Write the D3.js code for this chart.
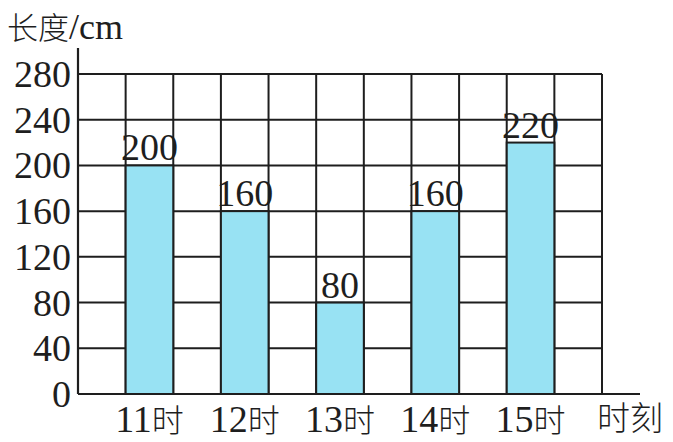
<!DOCTYPE html>
<html>
<head>
<meta charset="utf-8">
<script src="https://cdn.jsdelivr.net/npm/d3@7"></script>
<style>
  html, body { margin: 0; padding: 0; background: #fff; }
  svg { display: block; }
</style>
</head>
<body>
<script>
const categories = ["11时", "12时", "13时", "14时", "15时"];
const values = [200, 160, 80, 160, 220];
const yTicks = [0, 40, 80, 120, 160, 200, 240, 280];
const yTitle = "长度/cm";
const xTitle = "时刻";

const W = 673, H = 442;
const plotLeft = 78, plotRight = 602, plotTop = 74, plotBottom = 394;
const ink = "#1e1e1e";
const serif = "'Liberation Serif', 'DejaVu Serif', serif";
const cjk = "'Noto Sans CJK SC', sans-serif";

const svg = d3.select("body").append("svg").attr("width", W).attr("height", H);

const x = d3.scaleBand().domain(categories).range([plotLeft, plotRight])
  .paddingInner(0.5).paddingOuter(0.5);
const y = d3.scaleLinear().domain([0, 280]).range([plotBottom, plotTop]);

const col = x.step() / 2;
const nCols = Math.round((plotRight - plotLeft) / col);
const vLines = d3.range(nCols + 1).map(k => plotLeft + k * col);

// grid
const grid = svg.append("g").attr("stroke", ink).attr("stroke-width", 2);
grid.selectAll("line.h").data(yTicks.filter(t => t > 0)).join("line")
  .attr("class", "h")
  .attr("x1", plotLeft).attr("x2", plotRight)
  .attr("y1", d => y(d)).attr("y2", d => y(d));
grid.selectAll("line.v").data(vLines.slice(1)).join("line")
  .attr("class", "v")
  .attr("x1", d => d).attr("x2", d => d)
  .attr("y1", plotTop).attr("y2", plotBottom);

// bars
svg.append("g").selectAll("rect").data(values).join("rect")
  .attr("x", (d, i) => x(categories[i]))
  .attr("y", d => y(d))
  .attr("width", x.bandwidth())
  .attr("height", d => y(0) - y(d))
  .attr("fill", "#98e2f3")
  .attr("stroke", ink).attr("stroke-width", 2);

// axes lines
svg.append("line").attr("x1", plotLeft).attr("x2", plotLeft).attr("y1", 48).attr("y2", plotBottom)
  .attr("stroke", ink).attr("stroke-width", 2.2);
svg.append("line").attr("x1", plotLeft).attr("x2", 640).attr("y1", plotBottom).attr("y2", plotBottom)
  .attr("stroke", ink).attr("stroke-width", 2.2);

// y tick labels
svg.append("g").selectAll("text").data(yTicks).join("text")
  .attr("x", 71).attr("y", d => y(d) + 13)
  .attr("text-anchor", "end")
  .attr("font-family", serif).attr("font-size", 38).attr("fill", ink)
  .text(d => d);

// value labels
svg.append("g").selectAll("text").data(values).join("text")
  .attr("x", (d, i) => x(categories[i]) + x.bandwidth() / 2)
  .attr("y", d => y(d) - 5)
  .attr("text-anchor", "middle")
  .attr("font-family", serif).attr("font-size", 38).attr("fill", ink)
  .text(d => d);

// x labels
const xl = svg.append("g").selectAll("text").data(categories).join("text")
  .attr("x", d => x(d) + x.bandwidth() / 2)
  .attr("y", 432)
  .attr("text-anchor", "middle")
  .attr("fill", ink);
xl.append("tspan").attr("font-family", serif).attr("font-size", 38).text(d => d.replace("时", ""));
xl.append("tspan").attr("font-family", cjk).attr("font-size", 32).attr("font-weight", 300).text("时");

svg.append("text").attr("x", 597).attr("y", 430)
  .attr("font-family", cjk).attr("font-size", 33).attr("font-weight", 300).attr("fill", ink)
  .text(xTitle);

// y title
const yt = svg.append("text").attr("x", 7).attr("y", 39).attr("fill", ink);
yt.append("tspan").attr("font-family", cjk).attr("font-size", 31).attr("font-weight", 300).text(yTitle.slice(0, 2));
yt.append("tspan").attr("font-family", serif).attr("font-size", 36).text(yTitle.slice(2));
</script>
</body>
</html>
